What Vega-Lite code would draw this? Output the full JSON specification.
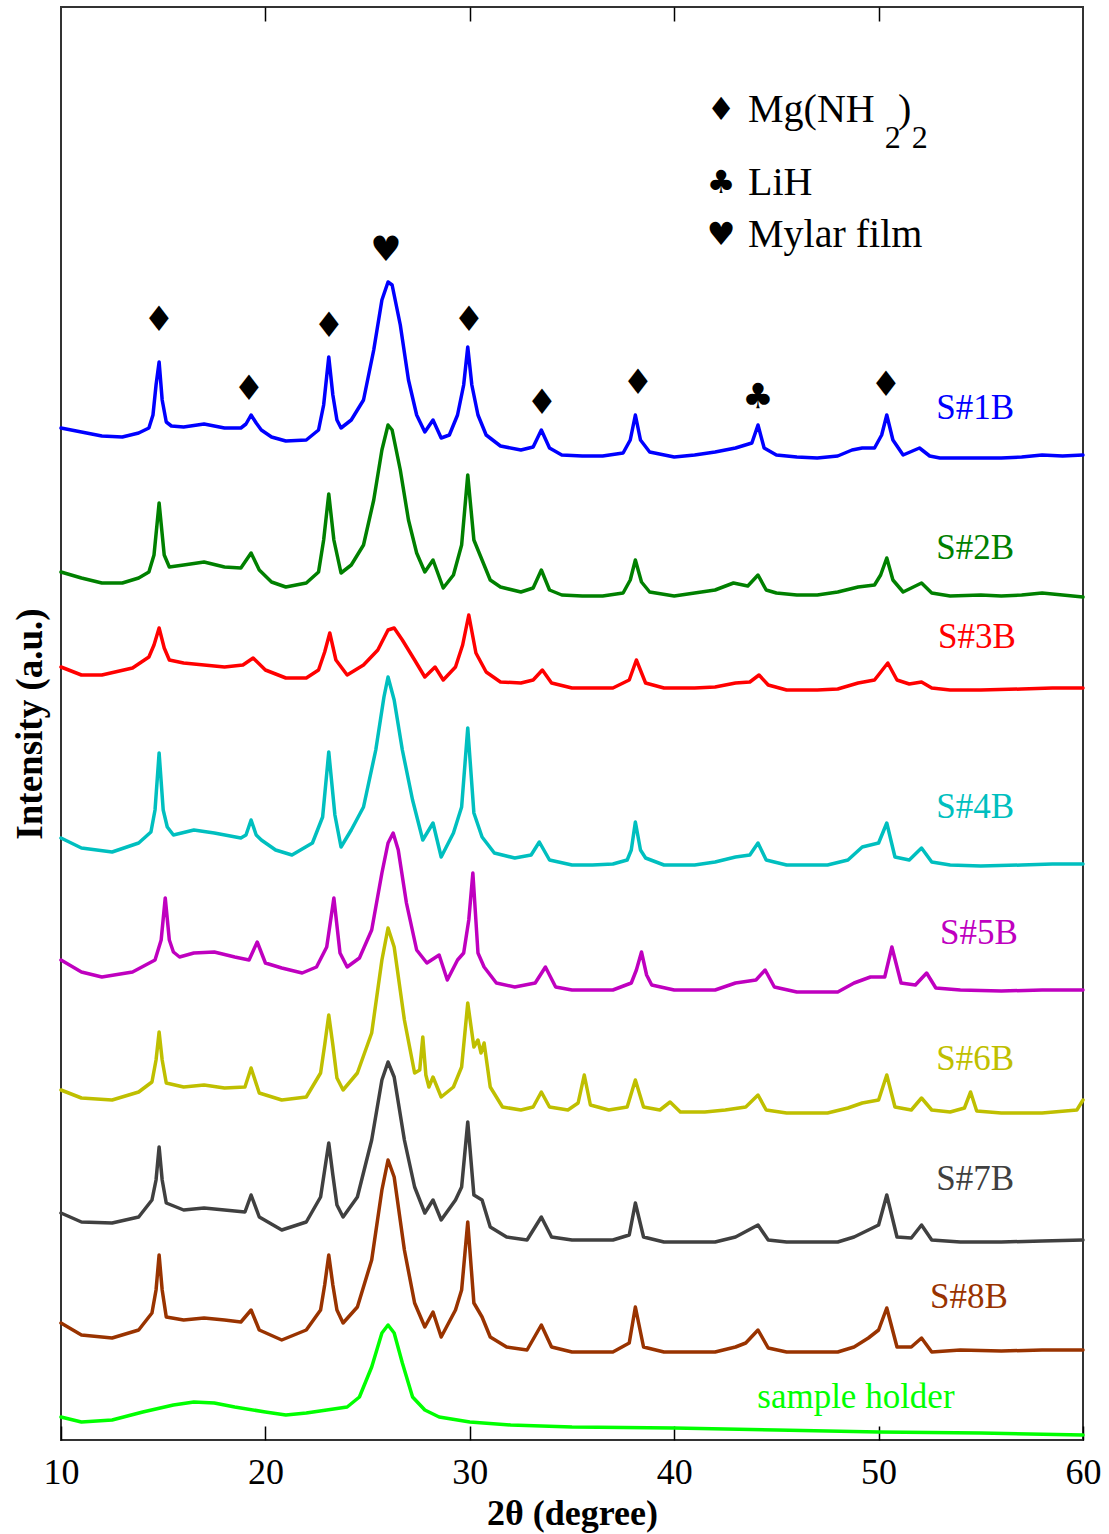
{
  "$schema": "https://vega.github.io/schema/vega-lite/v6.json",
  "width": 1022,
  "height": 1433,
  "autosize": {"type": "none"},
  "padding": {"left": 61, "top": 7, "right": 26, "bottom": 94},
  "background": "white",
  "config": {"view": {"stroke": "#333333", "strokeWidth": 2}, "font": "Liberation Serif"},
  "datasets": {
    "patterns": [
      {"s":"S#1B","t":10,"i":1012},{"s":"S#1B","t":11,"i":1008},{"s":"S#1B","t":12,"i":1004},{"s":"S#1B","t":13,"i":1003},{"s":"S#1B","t":13.8,"i":1007},{"s":"S#1B","t":14.3,"i":1012},{"s":"S#1B","t":14.5,"i":1025},{"s":"S#1B","t":14.65,"i":1055},{"s":"S#1B","t":14.8,"i":1078},{"s":"S#1B","t":14.95,"i":1040},{"s":"S#1B","t":15.15,"i":1018},{"s":"S#1B","t":15.4,"i":1014},{"s":"S#1B","t":16,"i":1013},{"s":"S#1B","t":17,"i":1016},{"s":"S#1B","t":18,"i":1012},{"s":"S#1B","t":18.8,"i":1012},{"s":"S#1B","t":19.05,"i":1016},{"s":"S#1B","t":19.3,"i":1025},{"s":"S#1B","t":19.55,"i":1017},{"s":"S#1B","t":19.8,"i":1010},{"s":"S#1B","t":20.3,"i":1003},{"s":"S#1B","t":21,"i":999},{"s":"S#1B","t":22,"i":1000},{"s":"S#1B","t":22.6,"i":1010},{"s":"S#1B","t":22.85,"i":1035},{"s":"S#1B","t":23.1,"i":1083},{"s":"S#1B","t":23.3,"i":1045},{"s":"S#1B","t":23.5,"i":1020},{"s":"S#1B","t":23.7,"i":1012},{"s":"S#1B","t":24.2,"i":1020},{"s":"S#1B","t":24.8,"i":1040},{"s":"S#1B","t":25.3,"i":1090},{"s":"S#1B","t":25.7,"i":1140},{"s":"S#1B","t":26.0,"i":1158},{"s":"S#1B","t":26.2,"i":1155},{"s":"S#1B","t":26.6,"i":1115},{"s":"S#1B","t":27.0,"i":1060},{"s":"S#1B","t":27.4,"i":1025},{"s":"S#1B","t":27.8,"i":1008},{"s":"S#1B","t":28.2,"i":1020},{"s":"S#1B","t":28.6,"i":1002},{"s":"S#1B","t":29.0,"i":1005},{"s":"S#1B","t":29.4,"i":1025},{"s":"S#1B","t":29.7,"i":1055},{"s":"S#1B","t":29.9,"i":1093},{"s":"S#1B","t":30.1,"i":1055},{"s":"S#1B","t":30.4,"i":1025},{"s":"S#1B","t":30.8,"i":1005},{"s":"S#1B","t":31.5,"i":994},{"s":"S#1B","t":32.5,"i":990},{"s":"S#1B","t":33.1,"i":993},{"s":"S#1B","t":33.5,"i":1010},{"s":"S#1B","t":33.9,"i":992},{"s":"S#1B","t":34.5,"i":985},{"s":"S#1B","t":35.5,"i":984},{"s":"S#1B","t":36.5,"i":984},{"s":"S#1B","t":37.5,"i":987},{"s":"S#1B","t":37.85,"i":1000},{"s":"S#1B","t":38.1,"i":1025},{"s":"S#1B","t":38.35,"i":1000},{"s":"S#1B","t":38.8,"i":988},{"s":"S#1B","t":40,"i":983},{"s":"S#1B","t":41,"i":985},{"s":"S#1B","t":42,"i":988},{"s":"S#1B","t":43,"i":992},{"s":"S#1B","t":43.8,"i":997},{"s":"S#1B","t":44.1,"i":1015},{"s":"S#1B","t":44.4,"i":992},{"s":"S#1B","t":45,"i":985},{"s":"S#1B","t":46,"i":983},{"s":"S#1B","t":47,"i":982},{"s":"S#1B","t":48,"i":984},{"s":"S#1B","t":48.7,"i":990},{"s":"S#1B","t":49.2,"i":992},{"s":"S#1B","t":49.8,"i":992},{"s":"S#1B","t":50.15,"i":1005},{"s":"S#1B","t":50.4,"i":1025},{"s":"S#1B","t":50.7,"i":1000},{"s":"S#1B","t":51.2,"i":985},{"s":"S#1B","t":52.0,"i":992},{"s":"S#1B","t":52.5,"i":984},{"s":"S#1B","t":53,"i":982},{"s":"S#1B","t":54,"i":982},{"s":"S#1B","t":55,"i":982},{"s":"S#1B","t":56,"i":982},{"s":"S#1B","t":57,"i":983},{"s":"S#1B","t":58,"i":985},{"s":"S#1B","t":59,"i":984},{"s":"S#1B","t":60,"i":985},

      {"s":"S#2B","t":10,"i":868},{"s":"S#2B","t":11,"i":862},{"s":"S#2B","t":12,"i":857},{"s":"S#2B","t":13,"i":857},{"s":"S#2B","t":13.8,"i":862},{"s":"S#2B","t":14.3,"i":868},{"s":"S#2B","t":14.55,"i":885},{"s":"S#2B","t":14.8,"i":937},{"s":"S#2B","t":15.05,"i":885},{"s":"S#2B","t":15.3,"i":873},{"s":"S#2B","t":16,"i":875},{"s":"S#2B","t":17,"i":878},{"s":"S#2B","t":18,"i":873},{"s":"S#2B","t":18.8,"i":872},{"s":"S#2B","t":19.3,"i":887},{"s":"S#2B","t":19.7,"i":870},{"s":"S#2B","t":20.3,"i":858},{"s":"S#2B","t":21,"i":853},{"s":"S#2B","t":22,"i":857},{"s":"S#2B","t":22.6,"i":868},{"s":"S#2B","t":22.85,"i":900},{"s":"S#2B","t":23.1,"i":946},{"s":"S#2B","t":23.35,"i":900},{"s":"S#2B","t":23.7,"i":867},{"s":"S#2B","t":24.2,"i":875},{"s":"S#2B","t":24.8,"i":895},{"s":"S#2B","t":25.3,"i":940},{"s":"S#2B","t":25.7,"i":990},{"s":"S#2B","t":26.0,"i":1015},{"s":"S#2B","t":26.2,"i":1010},{"s":"S#2B","t":26.6,"i":970},{"s":"S#2B","t":27.0,"i":920},{"s":"S#2B","t":27.4,"i":887},{"s":"S#2B","t":27.8,"i":868},{"s":"S#2B","t":28.2,"i":880},{"s":"S#2B","t":28.7,"i":852},{"s":"S#2B","t":29.2,"i":865},{"s":"S#2B","t":29.6,"i":895},{"s":"S#2B","t":29.9,"i":965},{"s":"S#2B","t":30.2,"i":900},{"s":"S#2B","t":30.6,"i":880},{"s":"S#2B","t":31.0,"i":860},{"s":"S#2B","t":31.5,"i":853},{"s":"S#2B","t":32.5,"i":848},{"s":"S#2B","t":33.1,"i":852},{"s":"S#2B","t":33.5,"i":870},{"s":"S#2B","t":33.9,"i":850},{"s":"S#2B","t":34.5,"i":845},{"s":"S#2B","t":35.5,"i":844},{"s":"S#2B","t":36.5,"i":844},{"s":"S#2B","t":37.5,"i":847},{"s":"S#2B","t":37.85,"i":860},{"s":"S#2B","t":38.1,"i":880},{"s":"S#2B","t":38.4,"i":858},{"s":"S#2B","t":38.8,"i":848},{"s":"S#2B","t":40,"i":844},{"s":"S#2B","t":41,"i":847},{"s":"S#2B","t":42,"i":850},{"s":"S#2B","t":42.9,"i":857},{"s":"S#2B","t":43.6,"i":854},{"s":"S#2B","t":44.1,"i":865},{"s":"S#2B","t":44.5,"i":850},{"s":"S#2B","t":45,"i":847},{"s":"S#2B","t":46,"i":845},{"s":"S#2B","t":47,"i":845},{"s":"S#2B","t":48,"i":848},{"s":"S#2B","t":49,"i":853},{"s":"S#2B","t":49.8,"i":855},{"s":"S#2B","t":50.1,"i":865},{"s":"S#2B","t":50.4,"i":882},{"s":"S#2B","t":50.7,"i":860},{"s":"S#2B","t":51.2,"i":848},{"s":"S#2B","t":52.1,"i":857},{"s":"S#2B","t":52.6,"i":847},{"s":"S#2B","t":53.5,"i":844},{"s":"S#2B","t":55,"i":845},{"s":"S#2B","t":56,"i":844},{"s":"S#2B","t":57,"i":845},{"s":"S#2B","t":58,"i":847},{"s":"S#2B","t":59,"i":845},{"s":"S#2B","t":60,"i":843},

      {"s":"S#3B","t":10,"i":773},{"s":"S#3B","t":11,"i":765},{"s":"S#3B","t":12,"i":765},{"s":"S#3B","t":13.5,"i":772},{"s":"S#3B","t":14.3,"i":783},{"s":"S#3B","t":14.55,"i":795},{"s":"S#3B","t":14.8,"i":812},{"s":"S#3B","t":15.05,"i":792},{"s":"S#3B","t":15.3,"i":780},{"s":"S#3B","t":16,"i":777},{"s":"S#3B","t":17,"i":775},{"s":"S#3B","t":18,"i":773},{"s":"S#3B","t":18.9,"i":775},{"s":"S#3B","t":19.4,"i":782},{"s":"S#3B","t":20.0,"i":770},{"s":"S#3B","t":21,"i":762},{"s":"S#3B","t":22,"i":762},{"s":"S#3B","t":22.6,"i":770},{"s":"S#3B","t":22.9,"i":788},{"s":"S#3B","t":23.15,"i":807},{"s":"S#3B","t":23.45,"i":780},{"s":"S#3B","t":24.0,"i":765},{"s":"S#3B","t":24.8,"i":775},{"s":"S#3B","t":25.5,"i":790},{"s":"S#3B","t":26.0,"i":810},{"s":"S#3B","t":26.3,"i":812},{"s":"S#3B","t":26.7,"i":800},{"s":"S#3B","t":27.3,"i":780},{"s":"S#3B","t":27.8,"i":763},{"s":"S#3B","t":28.3,"i":773},{"s":"S#3B","t":28.7,"i":760},{"s":"S#3B","t":29.3,"i":773},{"s":"S#3B","t":29.65,"i":795},{"s":"S#3B","t":29.95,"i":825},{"s":"S#3B","t":30.3,"i":787},{"s":"S#3B","t":30.8,"i":768},{"s":"S#3B","t":31.5,"i":758},{"s":"S#3B","t":32.5,"i":757},{"s":"S#3B","t":33.1,"i":760},{"s":"S#3B","t":33.55,"i":770},{"s":"S#3B","t":34,"i":757},{"s":"S#3B","t":35,"i":752},{"s":"S#3B","t":36,"i":752},{"s":"S#3B","t":37,"i":752},{"s":"S#3B","t":37.8,"i":760},{"s":"S#3B","t":38.15,"i":780},{"s":"S#3B","t":38.6,"i":757},{"s":"S#3B","t":39.5,"i":752},{"s":"S#3B","t":41,"i":752},{"s":"S#3B","t":42,"i":753},{"s":"S#3B","t":43,"i":757},{"s":"S#3B","t":43.7,"i":758},{"s":"S#3B","t":44.15,"i":765},{"s":"S#3B","t":44.6,"i":755},{"s":"S#3B","t":45.5,"i":750},{"s":"S#3B","t":47,"i":750},{"s":"S#3B","t":48,"i":751},{"s":"S#3B","t":49,"i":757},{"s":"S#3B","t":49.8,"i":760},{"s":"S#3B","t":50.45,"i":777},{"s":"S#3B","t":50.9,"i":760},{"s":"S#3B","t":51.5,"i":756},{"s":"S#3B","t":52.1,"i":758},{"s":"S#3B","t":52.6,"i":752},{"s":"S#3B","t":53.5,"i":750},{"s":"S#3B","t":55,"i":750},{"s":"S#3B","t":57,"i":751},{"s":"S#3B","t":58.5,"i":752},{"s":"S#3B","t":60,"i":752},

      {"s":"S#4B","t":10,"i":602},{"s":"S#4B","t":11,"i":592},{"s":"S#4B","t":12.5,"i":588},{"s":"S#4B","t":13.8,"i":597},{"s":"S#4B","t":14.4,"i":608},{"s":"S#4B","t":14.6,"i":630},{"s":"S#4B","t":14.8,"i":687},{"s":"S#4B","t":15.0,"i":630},{"s":"S#4B","t":15.2,"i":613},{"s":"S#4B","t":15.5,"i":605},{"s":"S#4B","t":16.5,"i":610},{"s":"S#4B","t":17.5,"i":607},{"s":"S#4B","t":18.8,"i":602},{"s":"S#4B","t":19.05,"i":605},{"s":"S#4B","t":19.3,"i":620},{"s":"S#4B","t":19.55,"i":605},{"s":"S#4B","t":19.8,"i":600},{"s":"S#4B","t":20.5,"i":590},{"s":"S#4B","t":21.3,"i":585},{"s":"S#4B","t":22.3,"i":597},{"s":"S#4B","t":22.8,"i":623},{"s":"S#4B","t":23.1,"i":688},{"s":"S#4B","t":23.4,"i":625},{"s":"S#4B","t":23.7,"i":593},{"s":"S#4B","t":24.2,"i":610},{"s":"S#4B","t":24.8,"i":633},{"s":"S#4B","t":25.4,"i":690},{"s":"S#4B","t":25.8,"i":743},{"s":"S#4B","t":26.0,"i":763},{"s":"S#4B","t":26.3,"i":740},{"s":"S#4B","t":26.7,"i":690},{"s":"S#4B","t":27.2,"i":640},{"s":"S#4B","t":27.7,"i":600},{"s":"S#4B","t":28.2,"i":617},{"s":"S#4B","t":28.6,"i":583},{"s":"S#4B","t":29.2,"i":607},{"s":"S#4B","t":29.6,"i":633},{"s":"S#4B","t":29.9,"i":712},{"s":"S#4B","t":30.2,"i":627},{"s":"S#4B","t":30.6,"i":603},{"s":"S#4B","t":31.2,"i":587},{"s":"S#4B","t":32.2,"i":582},{"s":"S#4B","t":33.0,"i":585},{"s":"S#4B","t":33.4,"i":598},{"s":"S#4B","t":33.9,"i":580},{"s":"S#4B","t":35,"i":575},{"s":"S#4B","t":36,"i":575},{"s":"S#4B","t":37,"i":576},{"s":"S#4B","t":37.7,"i":580},{"s":"S#4B","t":37.9,"i":590},{"s":"S#4B","t":38.1,"i":618},{"s":"S#4B","t":38.35,"i":590},{"s":"S#4B","t":38.6,"i":582},{"s":"S#4B","t":39.5,"i":575},{"s":"S#4B","t":41,"i":575},{"s":"S#4B","t":42,"i":578},{"s":"S#4B","t":43,"i":583},{"s":"S#4B","t":43.7,"i":585},{"s":"S#4B","t":44.1,"i":597},{"s":"S#4B","t":44.5,"i":580},{"s":"S#4B","t":45.5,"i":575},{"s":"S#4B","t":47.5,"i":575},{"s":"S#4B","t":48.5,"i":580},{"s":"S#4B","t":49.2,"i":593},{"s":"S#4B","t":50.0,"i":597},{"s":"S#4B","t":50.4,"i":617},{"s":"S#4B","t":50.8,"i":583},{"s":"S#4B","t":51.5,"i":580},{"s":"S#4B","t":52.1,"i":592},{"s":"S#4B","t":52.6,"i":578},{"s":"S#4B","t":53.5,"i":575},{"s":"S#4B","t":55,"i":574},{"s":"S#4B","t":57,"i":575},{"s":"S#4B","t":58.5,"i":576},{"s":"S#4B","t":60,"i":576},

      {"s":"S#5B","t":10,"i":480},{"s":"S#5B","t":11,"i":468},{"s":"S#5B","t":12,"i":463},{"s":"S#5B","t":13.5,"i":468},{"s":"S#5B","t":14.6,"i":480},{"s":"S#5B","t":14.9,"i":500},{"s":"S#5B","t":15.1,"i":542},{"s":"S#5B","t":15.3,"i":500},{"s":"S#5B","t":15.5,"i":488},{"s":"S#5B","t":15.8,"i":483},{"s":"S#5B","t":16.5,"i":487},{"s":"S#5B","t":17.5,"i":488},{"s":"S#5B","t":18.5,"i":483},{"s":"S#5B","t":19.2,"i":480},{"s":"S#5B","t":19.6,"i":498},{"s":"S#5B","t":20.0,"i":477},{"s":"S#5B","t":20.8,"i":472},{"s":"S#5B","t":21.8,"i":467},{"s":"S#5B","t":22.5,"i":473},{"s":"S#5B","t":23.0,"i":493},{"s":"S#5B","t":23.35,"i":542},{"s":"S#5B","t":23.65,"i":487},{"s":"S#5B","t":24.0,"i":473},{"s":"S#5B","t":24.6,"i":482},{"s":"S#5B","t":25.2,"i":510},{"s":"S#5B","t":25.7,"i":567},{"s":"S#5B","t":26.0,"i":597},{"s":"S#5B","t":26.25,"i":607},{"s":"S#5B","t":26.5,"i":590},{"s":"S#5B","t":26.9,"i":537},{"s":"S#5B","t":27.4,"i":490},{"s":"S#5B","t":27.9,"i":477},{"s":"S#5B","t":28.5,"i":485},{"s":"S#5B","t":28.9,"i":460},{"s":"S#5B","t":29.4,"i":480},{"s":"S#5B","t":29.7,"i":487},{"s":"S#5B","t":29.95,"i":520},{"s":"S#5B","t":30.15,"i":567},{"s":"S#5B","t":30.4,"i":487},{"s":"S#5B","t":30.7,"i":473},{"s":"S#5B","t":31.3,"i":457},{"s":"S#5B","t":32.2,"i":453},{"s":"S#5B","t":33.2,"i":457},{"s":"S#5B","t":33.7,"i":473},{"s":"S#5B","t":34.2,"i":453},{"s":"S#5B","t":35,"i":450},{"s":"S#5B","t":36,"i":450},{"s":"S#5B","t":37,"i":450},{"s":"S#5B","t":37.9,"i":457},{"s":"S#5B","t":38.15,"i":470},{"s":"S#5B","t":38.4,"i":488},{"s":"S#5B","t":38.65,"i":465},{"s":"S#5B","t":38.9,"i":455},{"s":"S#5B","t":40,"i":450},{"s":"S#5B","t":42,"i":450},{"s":"S#5B","t":43,"i":457},{"s":"S#5B","t":44.0,"i":460},{"s":"S#5B","t":44.45,"i":470},{"s":"S#5B","t":44.9,"i":453},{"s":"S#5B","t":46,"i":448},{"s":"S#5B","t":48,"i":448},{"s":"S#5B","t":48.8,"i":457},{"s":"S#5B","t":49.6,"i":463},{"s":"S#5B","t":50.3,"i":463},{"s":"S#5B","t":50.65,"i":493},{"s":"S#5B","t":51.1,"i":457},{"s":"S#5B","t":51.8,"i":455},{"s":"S#5B","t":52.35,"i":467},{"s":"S#5B","t":52.8,"i":452},{"s":"S#5B","t":54,"i":450},{"s":"S#5B","t":56,"i":449},{"s":"S#5B","t":58,"i":450},{"s":"S#5B","t":60,"i":450},

      {"s":"S#6B","t":10,"i":350},{"s":"S#6B","t":11,"i":342},{"s":"S#6B","t":12.5,"i":340},{"s":"S#6B","t":13.8,"i":348},{"s":"S#6B","t":14.45,"i":358},{"s":"S#6B","t":14.65,"i":380},{"s":"S#6B","t":14.8,"i":408},{"s":"S#6B","t":14.95,"i":380},{"s":"S#6B","t":15.15,"i":357},{"s":"S#6B","t":16,"i":353},{"s":"S#6B","t":17,"i":355},{"s":"S#6B","t":18,"i":352},{"s":"S#6B","t":19.0,"i":353},{"s":"S#6B","t":19.3,"i":372},{"s":"S#6B","t":19.7,"i":347},{"s":"S#6B","t":20.8,"i":340},{"s":"S#6B","t":22,"i":343},{"s":"S#6B","t":22.7,"i":367},{"s":"S#6B","t":22.9,"i":395},{"s":"S#6B","t":23.1,"i":425},{"s":"S#6B","t":23.3,"i":395},{"s":"S#6B","t":23.5,"i":362},{"s":"S#6B","t":23.8,"i":350},{"s":"S#6B","t":24.5,"i":367},{"s":"S#6B","t":25.2,"i":407},{"s":"S#6B","t":25.7,"i":480},{"s":"S#6B","t":26.0,"i":512},{"s":"S#6B","t":26.3,"i":493},{"s":"S#6B","t":26.8,"i":420},{"s":"S#6B","t":27.3,"i":367},{"s":"S#6B","t":27.55,"i":370},{"s":"S#6B","t":27.7,"i":403},{"s":"S#6B","t":27.85,"i":365},{"s":"S#6B","t":28.0,"i":353},{"s":"S#6B","t":28.2,"i":363},{"s":"S#6B","t":28.6,"i":343},{"s":"S#6B","t":29.2,"i":353},{"s":"S#6B","t":29.6,"i":373},{"s":"S#6B","t":29.9,"i":437},{"s":"S#6B","t":30.2,"i":393},{"s":"S#6B","t":30.4,"i":400},{"s":"S#6B","t":30.55,"i":387},{"s":"S#6B","t":30.7,"i":397},{"s":"S#6B","t":31.0,"i":353},{"s":"S#6B","t":31.6,"i":333},{"s":"S#6B","t":32.5,"i":330},{"s":"S#6B","t":33.1,"i":333},{"s":"S#6B","t":33.5,"i":348},{"s":"S#6B","t":33.9,"i":333},{"s":"S#6B","t":34.8,"i":330},{"s":"S#6B","t":35.3,"i":337},{"s":"S#6B","t":35.6,"i":365},{"s":"S#6B","t":35.9,"i":335},{"s":"S#6B","t":36.8,"i":330},{"s":"S#6B","t":37.7,"i":333},{"s":"S#6B","t":38.1,"i":360},{"s":"S#6B","t":38.5,"i":333},{"s":"S#6B","t":39.3,"i":330},{"s":"S#6B","t":39.8,"i":338},{"s":"S#6B","t":40.3,"i":328},{"s":"S#6B","t":41.5,"i":328},{"s":"S#6B","t":42.5,"i":330},{"s":"S#6B","t":43.5,"i":333},{"s":"S#6B","t":44.1,"i":345},{"s":"S#6B","t":44.5,"i":330},{"s":"S#6B","t":45.5,"i":327},{"s":"S#6B","t":47.5,"i":327},{"s":"S#6B","t":48.5,"i":332},{"s":"S#6B","t":49.2,"i":337},{"s":"S#6B","t":50.0,"i":340},{"s":"S#6B","t":50.4,"i":365},{"s":"S#6B","t":50.8,"i":333},{"s":"S#6B","t":51.6,"i":330},{"s":"S#6B","t":52.1,"i":342},{"s":"S#6B","t":52.6,"i":330},{"s":"S#6B","t":53.5,"i":328},{"s":"S#6B","t":54.2,"i":332},{"s":"S#6B","t":54.5,"i":348},{"s":"S#6B","t":54.8,"i":329},{"s":"S#6B","t":56,"i":327},{"s":"S#6B","t":58,"i":327},{"s":"S#6B","t":59.7,"i":330},{"s":"S#6B","t":60,"i":340},

      {"s":"S#7B","t":10,"i":227},{"s":"S#7B","t":11,"i":218},{"s":"S#7B","t":12.5,"i":217},{"s":"S#7B","t":13.8,"i":223},{"s":"S#7B","t":14.45,"i":240},{"s":"S#7B","t":14.65,"i":260},{"s":"S#7B","t":14.8,"i":293},{"s":"S#7B","t":14.95,"i":260},{"s":"S#7B","t":15.15,"i":237},{"s":"S#7B","t":16,"i":230},{"s":"S#7B","t":17,"i":232},{"s":"S#7B","t":18,"i":230},{"s":"S#7B","t":19.0,"i":228},{"s":"S#7B","t":19.3,"i":245},{"s":"S#7B","t":19.7,"i":223},{"s":"S#7B","t":20.8,"i":210},{"s":"S#7B","t":22.0,"i":218},{"s":"S#7B","t":22.7,"i":243},{"s":"S#7B","t":22.9,"i":270},{"s":"S#7B","t":23.1,"i":297},{"s":"S#7B","t":23.3,"i":265},{"s":"S#7B","t":23.5,"i":235},{"s":"S#7B","t":23.8,"i":223},{"s":"S#7B","t":24.5,"i":243},{"s":"S#7B","t":25.2,"i":300},{"s":"S#7B","t":25.7,"i":360},{"s":"S#7B","t":26.0,"i":378},{"s":"S#7B","t":26.3,"i":363},{"s":"S#7B","t":26.8,"i":300},{"s":"S#7B","t":27.3,"i":253},{"s":"S#7B","t":27.8,"i":227},{"s":"S#7B","t":28.2,"i":240},{"s":"S#7B","t":28.6,"i":220},{"s":"S#7B","t":29.3,"i":240},{"s":"S#7B","t":29.6,"i":253},{"s":"S#7B","t":29.9,"i":318},{"s":"S#7B","t":30.2,"i":245},{"s":"S#7B","t":30.6,"i":240},{"s":"S#7B","t":31.0,"i":213},{"s":"S#7B","t":31.8,"i":203},{"s":"S#7B","t":32.8,"i":200},{"s":"S#7B","t":33.5,"i":223},{"s":"S#7B","t":34.0,"i":203},{"s":"S#7B","t":35,"i":200},{"s":"S#7B","t":37,"i":200},{"s":"S#7B","t":37.8,"i":205},{"s":"S#7B","t":38.1,"i":237},{"s":"S#7B","t":38.5,"i":203},{"s":"S#7B","t":39.5,"i":198},{"s":"S#7B","t":42,"i":198},{"s":"S#7B","t":43,"i":203},{"s":"S#7B","t":44.1,"i":215},{"s":"S#7B","t":44.6,"i":200},{"s":"S#7B","t":45.5,"i":198},{"s":"S#7B","t":48,"i":198},{"s":"S#7B","t":48.8,"i":203},{"s":"S#7B","t":49.5,"i":210},{"s":"S#7B","t":50.0,"i":215},{"s":"S#7B","t":50.4,"i":245},{"s":"S#7B","t":50.9,"i":203},{"s":"S#7B","t":51.6,"i":202},{"s":"S#7B","t":52.1,"i":215},{"s":"S#7B","t":52.6,"i":200},{"s":"S#7B","t":54,"i":198},{"s":"S#7B","t":56,"i":198},{"s":"S#7B","t":58,"i":199},{"s":"S#7B","t":60,"i":200},

      {"s":"S#8B","t":10,"i":117},{"s":"S#8B","t":11,"i":105},{"s":"S#8B","t":12.5,"i":102},{"s":"S#8B","t":13.8,"i":110},{"s":"S#8B","t":14.45,"i":127},{"s":"S#8B","t":14.65,"i":150},{"s":"S#8B","t":14.8,"i":185},{"s":"S#8B","t":14.95,"i":150},{"s":"S#8B","t":15.15,"i":123},{"s":"S#8B","t":16,"i":120},{"s":"S#8B","t":17,"i":122},{"s":"S#8B","t":18,"i":120},{"s":"S#8B","t":18.8,"i":118},{"s":"S#8B","t":19.3,"i":130},{"s":"S#8B","t":19.7,"i":110},{"s":"S#8B","t":20.8,"i":100},{"s":"S#8B","t":22.0,"i":110},{"s":"S#8B","t":22.7,"i":130},{"s":"S#8B","t":22.9,"i":155},{"s":"S#8B","t":23.1,"i":185},{"s":"S#8B","t":23.3,"i":155},{"s":"S#8B","t":23.5,"i":130},{"s":"S#8B","t":23.8,"i":117},{"s":"S#8B","t":24.5,"i":133},{"s":"S#8B","t":25.2,"i":180},{"s":"S#8B","t":25.7,"i":250},{"s":"S#8B","t":26.0,"i":280},{"s":"S#8B","t":26.3,"i":263},{"s":"S#8B","t":26.8,"i":190},{"s":"S#8B","t":27.3,"i":137},{"s":"S#8B","t":27.8,"i":113},{"s":"S#8B","t":28.2,"i":128},{"s":"S#8B","t":28.6,"i":103},{"s":"S#8B","t":29.3,"i":130},{"s":"S#8B","t":29.6,"i":150},{"s":"S#8B","t":29.9,"i":218},{"s":"S#8B","t":30.2,"i":137},{"s":"S#8B","t":30.6,"i":123},{"s":"S#8B","t":31.0,"i":103},{"s":"S#8B","t":31.8,"i":93},{"s":"S#8B","t":32.8,"i":90},{"s":"S#8B","t":33.5,"i":115},{"s":"S#8B","t":34.0,"i":93},{"s":"S#8B","t":35,"i":88},{"s":"S#8B","t":37,"i":88},{"s":"S#8B","t":37.8,"i":97},{"s":"S#8B","t":38.1,"i":133},{"s":"S#8B","t":38.5,"i":93},{"s":"S#8B","t":39.5,"i":88},{"s":"S#8B","t":42,"i":88},{"s":"S#8B","t":43,"i":93},{"s":"S#8B","t":43.5,"i":97},{"s":"S#8B","t":44.1,"i":110},{"s":"S#8B","t":44.6,"i":92},{"s":"S#8B","t":45.5,"i":88},{"s":"S#8B","t":48,"i":88},{"s":"S#8B","t":48.8,"i":93},{"s":"S#8B","t":49.5,"i":102},{"s":"S#8B","t":50.0,"i":110},{"s":"S#8B","t":50.4,"i":132},{"s":"S#8B","t":50.9,"i":93},{"s":"S#8B","t":51.6,"i":93},{"s":"S#8B","t":52.1,"i":102},{"s":"S#8B","t":52.6,"i":88},{"s":"S#8B","t":54,"i":90},{"s":"S#8B","t":56,"i":89},{"s":"S#8B","t":58,"i":90},{"s":"S#8B","t":60,"i":90},

      {"s":"sample holder","t":10,"i":23},{"s":"sample holder","t":11,"i":18},{"s":"sample holder","t":12.5,"i":20},{"s":"sample holder","t":14,"i":28},{"s":"sample holder","t":15.5,"i":35},{"s":"sample holder","t":16.5,"i":38},{"s":"sample holder","t":17.5,"i":37},{"s":"sample holder","t":18.5,"i":33},{"s":"sample holder","t":20,"i":28},{"s":"sample holder","t":21,"i":25},{"s":"sample holder","t":22,"i":27},{"s":"sample holder","t":23,"i":30},{"s":"sample holder","t":24,"i":33},{"s":"sample holder","t":24.6,"i":43},{"s":"sample holder","t":25.2,"i":73},{"s":"sample holder","t":25.7,"i":107},{"s":"sample holder","t":26.0,"i":115},{"s":"sample holder","t":26.3,"i":107},{"s":"sample holder","t":26.7,"i":77},{"s":"sample holder","t":27.2,"i":43},{"s":"sample holder","t":27.8,"i":30},{"s":"sample holder","t":28.5,"i":23},{"s":"sample holder","t":30,"i":18},{"s":"sample holder","t":32,"i":15},{"s":"sample holder","t":35,"i":13},{"s":"sample holder","t":40,"i":12},{"s":"sample holder","t":45,"i":10},{"s":"sample holder","t":50,"i":8},{"s":"sample holder","t":55,"i":7},{"s":"sample holder","t":60,"i":5}
    ],
    "sampleLabels": [
      {"s":"S#1B","t":54.72,"i":1032},
      {"s":"S#2B","t":54.72,"i":892},
      {"s":"S#3B","t":54.81,"i":803},
      {"s":"S#4B","t":54.72,"i":633},
      {"s":"S#5B","t":54.91,"i":507},
      {"s":"S#6B","t":54.72,"i":381},
      {"s":"S#7B","t":54.72,"i":261},
      {"s":"S#8B","t":54.42,"i":143},
      {"s":"sample holder","t":48.89,"i":43}
    ],
    "phaseMarks": [
      {"symbol":"♦","phase":"Mg(NH2)2","t":14.79,"i":1120},
      {"symbol":"♦","phase":"Mg(NH2)2","t":19.2,"i":1051},
      {"symbol":"♦","phase":"Mg(NH2)2","t":23.11,"i":1114},
      {"symbol":"♥","phase":"Mylar film","t":25.9,"i":1190},
      {"symbol":"♦","phase":"Mg(NH2)2","t":29.96,"i":1120},
      {"symbol":"♦","phase":"Mg(NH2)2","t":33.53,"i":1037},
      {"symbol":"♦","phase":"Mg(NH2)2","t":38.23,"i":1057},
      {"symbol":"♣","phase":"LiH","t":44.1,"i":1043},
      {"symbol":"♦","phase":"Mg(NH2)2","t":50.36,"i":1055}
    ],
    "keySymbols": [
      {"symbol":"♦","t":42.29,"i":1330},
      {"symbol":"♣","t":42.29,"i":1257},
      {"symbol":"♥","t":42.29,"i":1205}
    ],
    "keyText": [
      {"text":"Mg(NH","t":43.61,"i":1330},
      {"text":")","t":50.95,"i":1330},
      {"text":"LiH","t":43.61,"i":1257},
      {"text":"Mylar film","t":43.61,"i":1205}
    ],
    "keySubscripts": [
      {"text":"2","t":50.3,"i":1302},
      {"text":"2","t":51.62,"i":1302}
    ]
  },
  "layer": [
    {
      "data": {"name": "patterns"},
      "mark": {"type": "line", "strokeWidth": 3.5, "strokeJoin": "round", "strokeCap": "round"},
      "encoding": {
        "x": {"field": "t", "type": "quantitative",
          "scale": {"domain": [10, 60], "nice": false, "zero": false},
          "axis": {"orient": "bottom", "values": [10, 20, 30, 40, 50, 60], "tickSize": -14, "tickColor": "black", "tickWidth": 1.5,
            "domain": false, "grid": false, "labelFlush": false, "labelOverlap": false,
            "labelFont": "Liberation Serif", "labelFontSize": 36, "labelColor": "black", "labelPadding": 29,
            "title": "2θ (degree)", "titleFont": "Liberation Serif", "titleFontSize": 36, "titleFontWeight": "bold", "titleColor": "black", "titlePadding": 6}},
        "y": {"field": "i", "type": "quantitative",
          "scale": {"domain": [0, 1433], "nice": false, "zero": false},
          "axis": {"title": "Intensity (a.u.)", "labels": false, "ticks": false, "domain": false, "grid": false,
            "titleFont": "Liberation Serif", "titleFontSize": 37, "titleFontWeight": "bold", "titleColor": "black", "titlePadding": 12}},
        "color": {"field": "s", "type": "nominal",
          "scale": {"domain": ["S#1B","S#2B","S#3B","S#4B","S#5B","S#6B","S#7B","S#8B","sample holder"],
                    "range": ["#0000ff","#008000","#ff0000","#00bfbf","#bf00bf","#bfbf00","#404040","#993300","#00ff00"]},
          "legend": null}
      }
    },
    {
      "data": {"name": "sampleLabels"},
      "mark": {"type": "text", "font": "Liberation Serif", "fontSize": 35, "align": "center", "baseline": "middle"},
      "encoding": {
        "x": {"field": "t", "type": "quantitative", "scale": {"domain": [10, 60], "nice": false, "zero": false}, "axis": null},
        "y": {"field": "i", "type": "quantitative", "scale": {"domain": [0, 1433], "nice": false, "zero": false}, "axis": null},
        "text": {"field": "s"},
        "color": {"field": "s", "type": "nominal", "legend": null}
      }
    },
    {
      "data": {"name": "phaseMarks"},
      "mark": {"type": "text", "font": "DejaVu Sans", "fontSize": 35, "align": "center", "baseline": "middle", "color": "black"},
      "encoding": {
        "x": {"field": "t", "type": "quantitative", "scale": {"domain": [10, 60], "nice": false, "zero": false},
          "axis": {"orient": "top", "values": [20, 30, 40, 50], "tickSize": -14, "tickColor": "black", "tickWidth": 1.5,
            "labels": false, "domain": false, "grid": false, "title": null}},
        "y": {"field": "i", "type": "quantitative", "scale": {"domain": [0, 1433], "nice": false, "zero": false}, "axis": null},
        "text": {"field": "symbol"}
      }
    },
    {
      "data": {"name": "keySymbols"},
      "mark": {"type": "text", "font": "DejaVu Sans", "fontSize": 32, "align": "center", "baseline": "middle", "color": "black"},
      "encoding": {
        "x": {"field": "t", "type": "quantitative", "scale": {"domain": [10, 60], "nice": false, "zero": false}, "axis": null},
        "y": {"field": "i", "type": "quantitative", "scale": {"domain": [0, 1433], "nice": false, "zero": false}, "axis": null},
        "text": {"field": "symbol"}
      }
    },
    {
      "data": {"name": "keyText"},
      "mark": {"type": "text", "font": "Liberation Serif", "fontSize": 40, "align": "left", "baseline": "middle", "color": "black"},
      "encoding": {
        "x": {"field": "t", "type": "quantitative", "scale": {"domain": [10, 60], "nice": false, "zero": false}, "axis": null},
        "y": {"field": "i", "type": "quantitative", "scale": {"domain": [0, 1433], "nice": false, "zero": false}, "axis": null},
        "text": {"field": "text"}
      }
    },
    {
      "data": {"name": "keySubscripts"},
      "mark": {"type": "text", "font": "Liberation Serif", "fontSize": 32, "align": "left", "baseline": "middle", "color": "black"},
      "encoding": {
        "x": {"field": "t", "type": "quantitative", "scale": {"domain": [10, 60], "nice": false, "zero": false}, "axis": null},
        "y": {"field": "i", "type": "quantitative", "scale": {"domain": [0, 1433], "nice": false, "zero": false}, "axis": null},
        "text": {"field": "text"}
      }
    }
  ],
  "resolve": {"axis": {"x": "independent", "y": "independent"}}
}
